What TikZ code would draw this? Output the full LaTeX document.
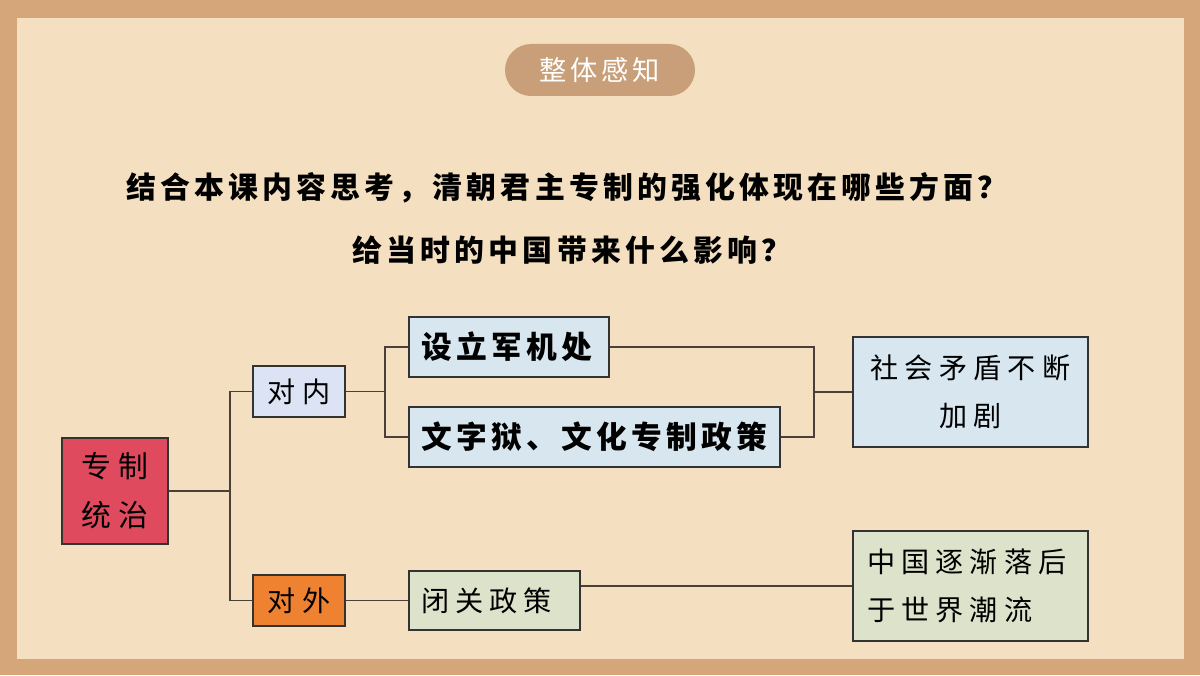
\documentclass[tikz,border=0pt]{standalone}
\usepackage{fontspec}
\usepackage{xcolor}
\usepackage{tikz}
\usetikzlibrary{shapes.geometric, arrows, positioning}
\newfontfamily\cjk[LetterSpace=22]{Noto Sans CJK SC}
\newfontfamily\cjkwide[LetterSpace=14]{Noto Sans CJK SC}
\definecolor{paperbrown}{HTML}{D4A679}
\definecolor{papercream}{HTML}{F4E0C0}
\definecolor{pillbrown}{HTML}{C89F78}
\definecolor{rulered}{HTML}{E04A5E}
\definecolor{innerblue}{HTML}{DCE3F5}
\definecolor{outerorange}{HTML}{EE8231}
\definecolor{softblue}{HTML}{D7E6EF}
\definecolor{softgreen}{HTML}{DDE2CB}
\definecolor{linkgray}{HTML}{4A4038}

\begin{document}
\begin{tikzpicture}[
every node/.style={inner sep=0pt, font=\cjk\fontsize{16}{27}\selectfont},
link/.style={draw=linkgray, line width=0.8pt}
]

% Define styles
\tikzstyle{box} = [rectangle, draw=black!80, line width=0.8pt]
\tikzstyle{root} = [box, fill=rulered, minimum width=2.12cm, minimum height=2.12cm, align=center, font=\cjk\fontsize{17}{28}\selectfont]
\tikzstyle{side} = [box, minimum width=1.84cm, minimum height=1.02cm]
\tikzstyle{measure} = [box, fill=softblue, minimum height=1.2cm, align=left, font=\cjkwide\bfseries\fontsize{17.5}{20}\selectfont]
\tikzstyle{result} = [box, minimum width=4.7cm, minimum height=2.2cm]

% Background
\fill[paperbrown] (0,0) rectangle (24,13.5);
\fill[papercream] (0.34,0.32) rectangle (23.68,13.14);
\useasboundingbox (0,0) rectangle (24,13.5);

% Title and question
\node (title) [fill=pillbrown, rounded corners=0.52cm, minimum width=3.8cm, minimum height=1.04cm, text=white, font=\cjkwide\fontsize{15.5}{18}\selectfont] at (12,12.1) {整体感知};

\node (q1) [font=\cjkwide\bfseries\fontsize{17}{20}\selectfont] at (11.34,9.74) {结合本课内容思考，清朝君主专制的强化体现在哪些方面？};
\node (q2) [font=\cjkwide\bfseries\fontsize{17}{20}\selectfont] at (11.44,8.5) {给当时的中国带来什么影响？};

% Nodes
\node (rule) [root] at (2.3,3.68) {专制\\统治};

\node (inner) [side, fill=innerblue] at (5.98,5.67) {对内};
\node (outer) [side, fill=outerorange] at (5.98,1.49) {对外};

\node (council) [measure, minimum width=4cm, text width=3.76cm] at (10.18,6.56) {\hspace*{0.12cm}设立军机处};
\node (censor) [measure, minimum width=7.42cm, text width=7.18cm] at (11.89,4.76) {\hspace*{0.12cm}文字狱、文化专制政策};
\node (closed) [box, fill=softgreen, minimum width=3.42cm, minimum height=1.18cm, text width=2.94cm, align=left] at (9.89,1.49) {闭关政策};

\node (conflict) [result, fill=softblue, align=center] at (19.41,5.66) {社会矛盾不断\\加剧};
\node (behind) [result, fill=softgreen, text width=4.14cm, align=left] at (19.41,1.78) {中国逐渐落后\\于世界潮流};

% Forks
\coordinate (fork1) at (4.6,3.68);
\coordinate (fork2) at (7.7,5.67);
\coordinate (fork3) at (16.28,5.66);

% Lines
\draw [link] (rule) -- (fork1);
\draw [link] (inner.west) -| (fork1) |- (outer.west);
\draw [link] (inner) -- (fork2);
\draw [link] (council.west) -| (fork2) |- (censor.west);
\draw [link] (council.east) -| (fork3) |- (censor.east);
\draw [link] (fork3) -- (conflict.west);
\draw [link] (outer) -- (closed);
\draw [link] (behind.west) -- (behind.west -| closed.east);

\end{tikzpicture}
\end{document}
